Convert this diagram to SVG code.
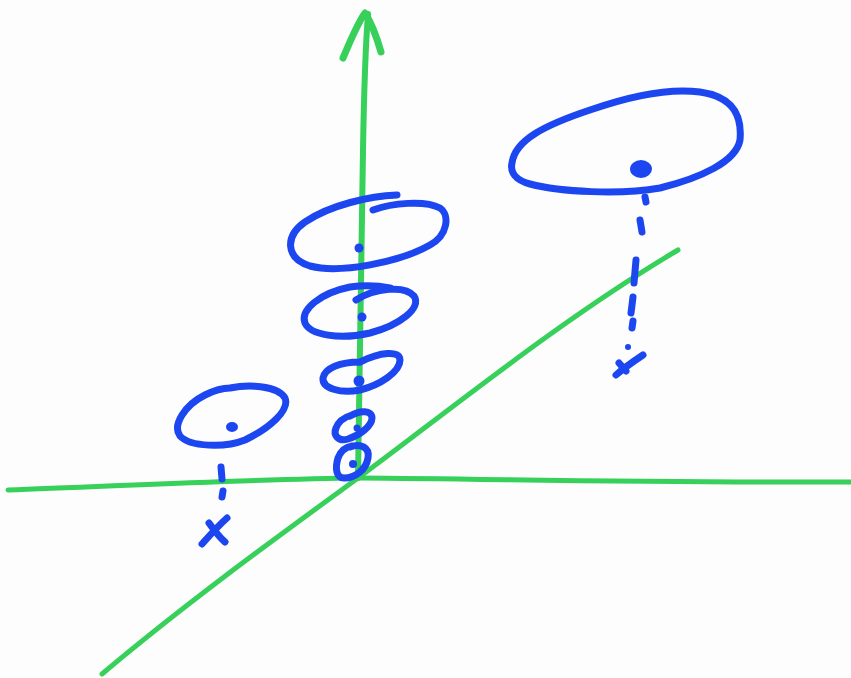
<svg xmlns="http://www.w3.org/2000/svg" width="851" height="678" viewBox="0 0 851 678">
<style>
.g{fill:none;stroke:#36d05a;stroke-linecap:round;stroke-linejoin:round}
.b{fill:none;stroke:#1c46f0;stroke-width:7;stroke-linecap:round;stroke-linejoin:round}
.d{fill:#1c46f0}
</style>
<rect width="851" height="678" fill="#fdfdfd"/>
<g id="axes">
<path class="g" stroke-width="5" d="M8,490 C120,486 250,479 360,478 C500,479 650,483 851,482"/>
<path class="g" stroke-width="5" d="M102,674 C190,600 280,535 358,478 C450,410 560,320 678,250"/>
<path class="g" stroke-width="6" d="M358,478 C360,380 361,250 363,150 C364,90 366,40 368,14"/>
<path class="g" stroke-width="7" d="M343,58 C350,42 357,24 365,13 C372,24 377,38 381,52"/>
</g>
<g id="stack">
<path class="b" d="M397,195 C370,196 330,205 305,222 C285,236 285,258 310,266 C340,274 400,262 430,245 C448,235 450,215 440,208 C425,200 392,203 373,210"/>
<circle class="d" cx="359" cy="248" r="4.5"/>
<path class="b" d="M356,300 C375,288 405,285 414,296 C422,308 400,325 370,333 C340,340 310,335 305,323 C300,310 320,293 350,287 C365,285 380,286 390,288"/>
<circle class="d" cx="362" cy="317" r="4.5"/>
<path class="b" d="M360,362 C380,352 400,350 400,360 C400,372 380,385 360,390 C340,394 322,388 323,378 C325,368 340,362 360,362"/>
<circle class="d" cx="359" cy="381" r="5.5"/>
<path class="b" d="M350,416 C360,410 372,410 372,418 C372,426 360,435 348,439 C338,442 333,435 336,428 C339,420 345,417 352,415"/>
<circle class="d" cx="357" cy="428" r="3.5"/>
<path class="b" d="M350,447 C360,443 370,447 368,458 C366,470 355,478 344,478 C336,478 335,468 338,458 C341,450 346,447 352,446"/>
<circle class="d" cx="353" cy="464" r="4"/>
</g>
<g id="left-point">
<path class="b" d="M230,388 C250,384 278,386 285,398 C290,410 270,428 245,440 C225,448 190,447 180,436 C172,425 185,405 205,395 C215,390 225,388 230,388"/>
<ellipse class="d" cx="232" cy="427" rx="6" ry="5"/>
<path class="b" d="M221,467 L222,479"/>
<path class="b" d="M223,491 L222,497"/>
<path class="b" d="M202,544 C210,535 218,526 227,518"/>
<path class="b" d="M209,523 C214,530 219,537 225,542"/>
</g>
<g id="right-point">
<path class="b" d="M512,163 C515,140 545,125 590,110 C630,96 670,88 700,92 C735,97 742,118 740,140 C736,162 700,178 660,188 C620,195 560,192 530,184 C515,180 510,172 512,163"/>
<ellipse class="d" cx="641" cy="169" rx="11" ry="9"/>
<path class="b" d="M645,197 L646,202"/>
<path class="b" d="M640,220 L642,232"/>
<path class="b" d="M636,260 L634,283"/>
<path class="b" d="M633,297 L631,313"/>
<path class="b" d="M633,321 L632,328"/>
<circle class="d" cx="628" cy="347" r="3"/>
<path class="b" d="M616,375 C625,367 634,361 643,355"/>
<path class="b" d="M619,363 L626,371"/>
</g>
</svg>
